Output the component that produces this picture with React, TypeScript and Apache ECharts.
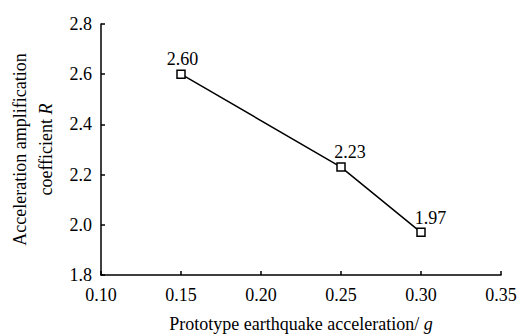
import React, { useEffect, useRef } from "react";
import * as echarts from "echarts";

const xValues = [0.15, 0.25, 0.3];
const rValues = [2.6, 2.23, 1.97];
const pointLabels = ["2.60", "2.23", "1.97"];
const labelOffsets: [number, number][] = [[1.5, 0], [9, 0], [9.5, 0]];

const FONT = "Liberation Serif";
const FS = 18;

export default function App() {
  const ref = useRef<HTMLDivElement>(null);
  useEffect(() => {
    if (!ref.current) return;
    const chart = echarts.init(ref.current, undefined, { renderer: "svg" });
    chart.setOption({
      animation: false,
      backgroundColor: "#ffffff",
      textStyle: { fontFamily: FONT, color: "#000" },
      grid: { left: 101, right: 20, top: 24, bottom: 61, containLabel: false, outerBoundsMode: "none" },
      xAxis: {
        type: "value",
        min: 0.1,
        max: 0.35,
        interval: 0.05,
        name: "Prototype earthquake acceleration/ {i|g}",
        nameLocation: "middle",
        nameGap: 40,
        nameTextStyle: {
          fontFamily: FONT,
          fontSize: FS,
          color: "#000",
          lineHeight: 18,
          rich: { i: { fontStyle: "italic", fontFamily: FONT, fontSize: FS, color: "#000", lineHeight: 18 } },
        },
        axisLine: { show: true, lineStyle: { color: "#000", width: 1.5 } },
        axisTick: { show: true, inside: true, length: 4, lineStyle: { color: "#000", width: 1.5 } },
        axisLabel: {
          fontFamily: FONT,
          fontSize: FS,
          color: "#000",
          margin: 11,
          formatter: (v: number) => v.toFixed(2),
        },
        splitLine: { show: false },
      },
      yAxis: {
        type: "value",
        min: 1.8,
        max: 2.8,
        interval: 0.2,
        name: "Acceleration amplification\ncoefficient {i|R}",
        nameLocation: "middle",
        nameGap: 32,
        nameTextStyle: {
          fontFamily: FONT,
          fontSize: FS,
          color: "#000",
          lineHeight: 26,
          align: "center",
          rich: { i: { fontStyle: "italic", fontFamily: FONT, fontSize: FS, color: "#000", lineHeight: 26 } },
        },
        axisLine: { show: true, lineStyle: { color: "#000", width: 1.5 } },
        axisTick: { show: true, inside: true, length: 4, lineStyle: { color: "#000", width: 1.5 } },
        axisLabel: {
          fontFamily: FONT,
          fontSize: FS,
          color: "#000",
          margin: 9,
          formatter: (v: number) => v.toFixed(1),
        },
        splitLine: { show: false },
      },
      series: [
        {
          type: "line",
          data: xValues.map((x, i) => ({
            value: [x, rValues[i]],
            label: {
              show: true,
              position: "top",
              offset: labelOffsets[i],
              distance: 1,
              formatter: pointLabels[i],
              fontFamily: FONT,
              fontSize: FS,
              color: "#000",
            },
          })),
          symbol: "rect",
          symbolSize: 8,
          itemStyle: { color: "#fff", borderColor: "#000", borderWidth: 1.5 },
          lineStyle: { color: "#000", width: 1.5 },
        },
      ],
    });
    return () => chart.dispose();
  }, []);
  return <div ref={ref} style={{ width: 521, height: 336, position: "absolute", left: 0, top: 0 }} />;
}
